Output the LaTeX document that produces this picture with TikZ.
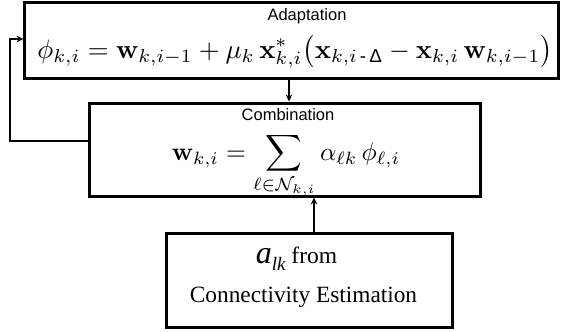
\documentclass[tikz,border=0pt]{standalone}
\usepackage{amsmath}
\usepackage[no-math]{fontspec}
\setmainfont{Liberation Serif}
\newfontfamily\arialfont{Liberation Sans}
\usetikzlibrary{arrows.meta}
\begin{document}
\begin{tikzpicture}[x=1bp,y=-1bp,
  blk/.style={draw=black,line width=3bp,inner sep=0pt,fill=white},
  arr/.style={draw=black,line width=2.8bp,-{Stealth[length=7bp,width=6.5bp]}},
  title/.style={font=\arialfont\fontsize{16.5bp}{18bp}\selectfont,inner sep=0pt,anchor=base},
  txt/.style={inner sep=0pt,anchor=base}]
\useasboundingbox (0,0) rectangle (561,331);
% boxes
\node[blk,minimum width=533bp,minimum height=76bp] (adapt) at (291.5,40.5) {};
\node[blk,minimum width=390.5bp,minimum height=93bp] (comb) at (285.25,149.5) {};
\node[blk,minimum width=286bp,minimum height=94bp] (conn) at (309,280) {};
% texts
\node[title] (adtitle) at (307,20) {Adaptation};
\node[inner sep=0pt] (adform) at (295,52) {\resizebox{515bp}{!}{$\displaystyle \phi_{k,i}=\mathbf{w}_{k,i-1}+\mu_k\,\mathbf{x}^{*}_{k,i}\bigl(\mathbf{x}_{k,i\text{\arialfont\,-\,Δ}}-\mathbf{x}_{k,i}\,\mathbf{w}_{k,i-1}\bigr)$}};
\node[title] (cbtitle) at (288,120) {Combination};
\node[inner sep=0pt] (cbform) at (286,166) {\resizebox{228bp}{!}{$\displaystyle \mathbf{w}_{k,i}=\sum_{\ell\in\mathcal{N}_{k,i}}\alpha_{\ell k}\,\phi_{\ell,i}$}};
\node[txt] (alk) at (296.5,263) {{\fontsize{32bp}{32bp}\selectfont\itshape a}{\fontsize{19bp}{19bp}\selectfont\itshape\raisebox{-7bp}{lk}}\fontsize{23.5bp}{26bp}\selectfont\ from};
\node[txt,font=\fontsize{23.3bp}{26bp}\selectfont] (cetext) at (303.5,302) {Connectivity Estimation};
% connectors
\coordinate (c1) at (289,0);
\coordinate (c2) at (314,0);
\coordinate (fbA) at (10,141);
\coordinate (fbB) at (10,39);
\draw[arr] (adapt.south -| c1) -- (comb.north -| c1);
\draw[arr] (conn.north -| c2) -- (comb.south -| c2);
\draw[arr,line join=miter] (comb.west |- fbA) -- (fbA) -- (fbB) -- (adapt.west |- fbB);
\end{tikzpicture}
\end{document}
